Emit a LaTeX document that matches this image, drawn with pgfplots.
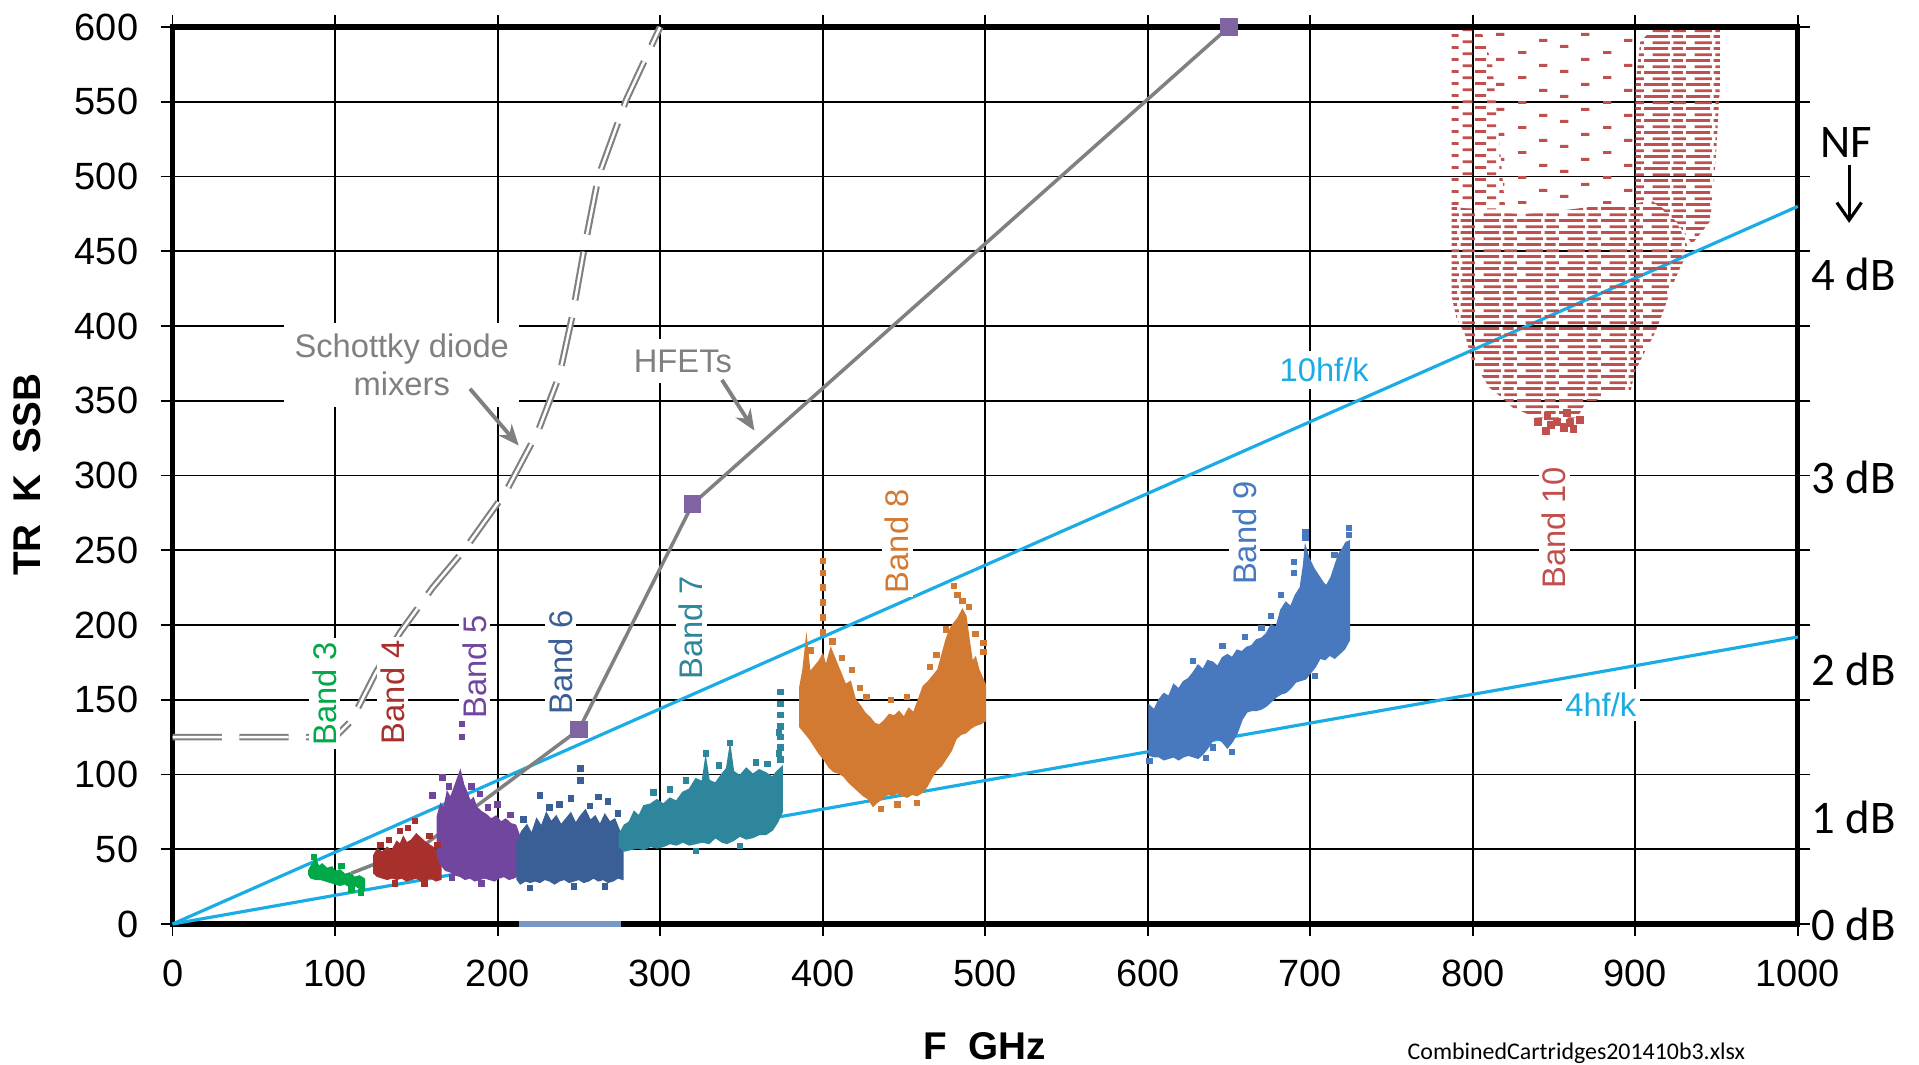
\documentclass[border=0pt]{standalone}
\usepackage{fontspec}
\setmainfont{Liberation Sans}
\newfontfamily\calibri{Carlito}
\usepackage{pgfplots}
\pgfplotsset{compat=1.18}
\usetikzlibrary{patterns,arrows.meta}

\definecolor{hfline}{RGB}{26,172,228}
\definecolor{greyl}{RGB}{128,128,128}
\definecolor{hfet}{RGB}{128,100,162}
\definecolor{b3}{RGB}{0,168,72}
\definecolor{b4}{RGB}{168,48,44}
\definecolor{b5}{RGB}{112,70,158}
\definecolor{b6}{RGB}{58,94,150}
\definecolor{b7}{RGB}{46,134,156}
\definecolor{b8}{RGB}{210,122,50}
\definecolor{b9}{RGB}{72,120,190}
\definecolor{b10}{RGB}{192,80,77}

% row textures for the band 10 cloud (staggered dashes)
\pgfdeclarepatternformonly{rowsdense}{\pgfqpoint{0pt}{0pt}}{\pgfqpoint{12pt}{3.5pt}}{\pgfqpoint{12pt}{3.5pt}}{%
  \pgfpathrectangle{\pgfqpoint{0pt}{0pt}}{\pgfqpoint{7pt}{0.85pt}}%
  \pgfpathrectangle{\pgfqpoint{8pt}{0pt}}{\pgfqpoint{3.2pt}{0.85pt}}%
  \pgfpathrectangle{\pgfqpoint{2.5pt}{1.75pt}}{\pgfqpoint{5pt}{0.85pt}}%
  \pgfpathrectangle{\pgfqpoint{8.5pt}{1.75pt}}{\pgfqpoint{4.5pt}{0.85pt}}%
  \pgfusepath{fill}}
\pgfdeclarepatternformonly{rowssparse}{\pgfqpoint{0pt}{0pt}}{\pgfqpoint{14pt}{3.5pt}}{\pgfqpoint{14pt}{3.5pt}}{%
  \pgfpathrectangle{\pgfqpoint{0pt}{0pt}}{\pgfqpoint{3.2pt}{0.85pt}}%
  \pgfpathrectangle{\pgfqpoint{7pt}{0pt}}{\pgfqpoint{2.4pt}{0.85pt}}%
  \pgfpathrectangle{\pgfqpoint{3.5pt}{1.75pt}}{\pgfqpoint{2.6pt}{0.85pt}}%
  \pgfpathrectangle{\pgfqpoint{10.5pt}{1.75pt}}{\pgfqpoint{2.8pt}{0.85pt}}%
  \pgfusepath{fill}}
\pgfdeclarepatternformonly{rowsvsparse}{\pgfqpoint{0pt}{0pt}}{\pgfqpoint{24pt}{7pt}}{\pgfqpoint{24pt}{7pt}}{%
  \pgfpathrectangle{\pgfqpoint{0pt}{0pt}}{\pgfqpoint{2.4pt}{0.85pt}}%
  \pgfpathrectangle{\pgfqpoint{12pt}{1.75pt}}{\pgfqpoint{2.4pt}{0.85pt}}%
  \pgfpathrectangle{\pgfqpoint{6pt}{3.5pt}}{\pgfqpoint{2.4pt}{0.85pt}}%
  \pgfpathrectangle{\pgfqpoint{18pt}{5.25pt}}{\pgfqpoint{2.4pt}{0.85pt}}%
  \pgfusepath{fill}}

\newcommand{\bandfont}{\fontsize{9.3}{11}\selectfont}
\newcommand{\nffont}{\calibri\fontsize{13.3}{15}\selectfont}

\begin{document}
\begin{tikzpicture}
\begin{axis}[
  at={(0,0)}, anchor=south west,
  scale only axis, width=16.252cm, height=8.97cm,
  xmin=0, xmax=1000, ymin=0, ymax=600,
  xtick={0,100,...,1000}, ytick={0,50,...,600},
  grid=major, major grid style={black, line width=0.5pt},
  axis line style={black, line width=1.5pt},
  tick align=outside, major tick length=0.12cm,
  tick style={black, line width=0.5pt},
  ticklabel style={font=\fontsize{10.8}{13}\selectfont},
  xticklabel style={yshift=-0.12cm},
  yticklabel style={xshift=-0.1cm},
  /pgf/number format/assume math mode=true,
  /pgf/number format/1000 sep={},
  clip=false,
]

% hf/k reference lines
\addplot[hfline, line width=0.9pt] coordinates {(0,0) (1000,480)};
\addplot[hfline, line width=0.9pt] coordinates {(0,0) (1000,192)};

% Schottky diode mixers
\addplot[greyl, line width=0.6pt, double=white, double distance=0.7pt,
  dash pattern=on 14pt off 5pt] coordinates {
  (0,125) (100,125) (110,136) (125,168) (140,195) (160,225) (180,251)
  (205,289) (225,330) (238,367) (246,407) (253,450) (262,500) (279,551) (300,600)};

% HFETs
\addplot[greyl, line width=1pt] coordinates {
  (110,34) (155,53) (250,130) (320,281) (650,600)};
\addplot[only marks, mark=square*, mark size=2.3pt, hfet] coordinates {
  (250,130) (320,281) (650,600)};

% Band 3
\addplot[fill=b3, draw=b3, line width=0.5pt] coordinates {
  (84,36) (86,40) (88,43) (90,38) (92,40) (95,37) (98,38) (100,35) (103,36)
  (106,33) (109,34) (112,31) (115,32) (118,30)
  (118,23) (115,24) (112,26) (109,25) (106,27) (103,26) (100,27) (97,28)
  (94,29) (91,30) (88,30) (85,31) (84,33)} -- cycle;
\addplot[only marks, mark=square*, mark size=0.7pt, b3] coordinates {
  (87,45) (104,39) (116,21) (110,23)};

% Band 4
\addplot[fill=b4, draw=b4, line width=0.5pt] coordinates {
  (124,46) (126,50) (129,48) (132,51) (135,49) (138,55) (140,53) (142,58)
  (144,54) (147,56) (150,60) (153,57) (156,54) (159,52) (162,50) (165,48)
  (165,30) (162,29) (159,31) (156,30) (153,29) (150,31) (147,30) (144,29)
  (141,31) (138,30) (135,31) (132,30) (129,31) (126,32) (124,34)} -- cycle;
\addplot[only marks, mark=square*, mark size=0.7pt, b4] coordinates {
  (149,69) (145,64) (140,62) (158,59) (133,56) (128,53) (163,53) (137,27) (155,27)};

% Band 5
\addplot[fill=b5, draw=b5, line width=0.5pt] coordinates {
  (163,72) (165,80) (167,77) (169,88) (171,84) (173,90) (175,96) (177,102)
  (179,93) (181,88) (183,82) (185,84) (187,78) (190,75) (193,73) (196,70)
  (199,72) (202,68) (205,70) (208,67) (211,66) (213,60)
  (213,33) (210,31) (207,30) (204,32) (201,31) (198,29) (195,30) (192,31)
  (189,30) (186,29) (183,31) (180,30) (177,32) (174,33) (171,35) (168,36)
  (165,40) (163,45)} -- cycle;
\addplot[only marks, mark=square*, mark size=0.7pt, b5] coordinates {
  (178,125) (178,134) (166,98) (189,87) (200,80) (170,92) (184,92)
  (160,86) (194,78) (208,73) (190,27) (172,31)};

% Band 6
\addplot[fill=b6, draw=b6, line width=0.5pt] coordinates {
  (212,55) (215,62) (218,66) (221,60) (224,70) (227,65) (230,74) (233,68)
  (236,72) (239,66) (242,70) (245,74) (248,67) (251,72) (254,76) (257,69)
  (260,72) (263,66) (266,73) (269,68) (272,70) (275,62) (277,58)
  (277,30) (274,31) (271,29) (268,28) (265,30) (262,29) (259,31) (256,29)
  (253,28) (250,30) (247,29) (244,28) (241,30) (238,29) (235,27) (232,29)
  (229,30) (226,28) (223,29) (220,28) (217,29) (214,27) (212,30)} -- cycle;
\addplot[only marks, mark=square*, mark size=0.7pt, b6] coordinates {
  (226,86) (251,96) (251,104) (245,84) (262,85) (268,82) (238,80)
  (216,70) (232,78) (257,79) (274,74) (220,24) (247,25) (266,25)};
\addplot[color={rgb,255:red,120;green,150;blue,200}, line width=1.5pt] coordinates {(213,0) (276,0)};

% Band 7
\addplot[fill=b7, draw=b7, line width=0.5pt] coordinates {
  (275,60) (278,66) (281,68) (284,75) (287,72) (290,79) (294,80) (298,83)
  (302,80) (306,84) (310,82) (314,88) (318,90) (322,97) (326,95) (328,110)
  (330,96) (334,94) (338,100) (341,104) (343,118) (345,102) (349,99)
  (353,104) (357,100) (361,103) (365,101) (369,98) (372,102) (375,105)
  (375,75) (372,68) (369,63) (365,60) (361,60) (357,58) (353,57) (349,59)
  (345,56) (341,54) (338,55) (334,58) (330,54) (326,55) (322,54) (318,53)
  (314,55) (310,53) (306,54) (302,52) (298,51) (294,52) (290,50) (286,51)
  (282,50) (278,49) (275,52)} -- cycle;
\addplot[only marks, mark=square*, mark size=0.7pt, b7] coordinates {
  (374,110) (374,118) (374,125) (374,132) (374,140) (374,147) (374,155)
  (373,114) (373,128) (328,114) (343,121) (316,96) (296,88) (306,90)
  (336,106) (359,108) (366,107) (322,49) (349,52)};

% Band 8
\addplot[fill=b8, draw=b8, line width=0.5pt] coordinates {
  (386,158) (388,170) (390,190) (392,168) (395,172) (398,176) (400,180)
  (402,172) (405,184) (408,176) (411,168) (414,160) (417,162) (420,150)
  (423,146) (426,141) (429,138) (432,134) (435,133) (438,136) (441,140)
  (444,139) (447,142) (450,138) (453,144) (456,141) (459,150) (462,159)
  (465,162) (468,166) (471,170) (474,182) (476,190) (478,196) (480,200)
  (483,204) (486,210) (488,206) (490,190) (492,175) (494,178) (496,170)
  (498,165) (500,160)
  (500,136) (497,134) (494,133) (491,131) (488,128) (485,127) (482,124)
  (479,116) (476,111) (473,106) (470,103) (467,98) (464,92) (461,88)
  (458,86) (455,87) (452,85) (449,86) (446,88) (443,86) (440,87) (437,84)
  (434,82) (431,79) (428,84) (425,86) (422,89) (419,92) (416,95) (413,99)
  (410,101) (407,102) (404,105) (401,110) (398,114) (395,119) (392,124)
  (389,128) (386,132)} -- cycle;
\addplot[only marks, mark=square*, mark size=0.7pt, b8] coordinates {
  (400,195) (400,205) (400,215) (400,225) (400,235) (400,243) (481,226)
  (483,220) (486,216) (490,212) (476,197) (393,183) (406,189) (418,170)
  (427,152) (499,188) (499,182) (442,150) (452,152) (412,178) (423,158)
  (466,172) (470,180) (494,194) (436,77) (446,80) (458,81)};

% Band 9
\addplot[fill=b9, draw=b9, line width=0.5pt] coordinates {
  (601,146) (604,143) (607,150) (610,154) (613,152) (616,160) (619,157)
  (622,162) (625,164) (628,168) (631,173) (634,170) (637,176) (640,175)
  (643,172) (646,178) (649,180) (652,178) (655,183) (658,182) (661,185)
  (664,186) (667,190) (670,191) (673,194) (676,200) (679,198) (682,210)
  (685,215) (688,212) (691,220) (694,225) (696,240) (697,252) (699,245)
  (702,238) (705,233) (708,228) (710,226) (713,232) (716,242) (718,248)
  (720,251) (722,255) (724,256)
  (724,190) (721,184) (718,181) (715,178) (712,180) (709,177) (706,178)
  (703,172) (700,168) (697,164) (694,163) (691,162) (688,158) (685,155)
  (682,154) (679,152) (676,149) (673,146) (670,144) (667,143) (664,143)
  (661,142) (658,137) (655,128) (652,122) (649,118) (646,122) (643,124)
  (640,123) (637,118) (634,114) (631,111) (628,112) (625,113) (622,112)
  (619,110) (616,112) (613,111) (610,110) (607,112) (604,112) (601,113)} -- cycle;
\addplot[only marks, mark=square*, mark size=0.7pt, b9] coordinates {
  (697,262) (697,258) (690,242) (690,235) (724,265) (724,260) (721,247)
  (682,220) (715,247) (670,198) (601,109) (640,118) (628,176) (646,186)
  (660,192) (676,206) (652,115) (636,111) (703,166)};

% Band 10
\addplot[draw=none, pattern=rowsdense, pattern color=b10] coordinates {
  (787,480) (800,478) (815,476) (830,475) (845,476) (860,478) (875,480)
  (890,480) (900,482) (910,484) (918,478) (925,470) (930,460) (933,450)
  (928,440) (922,425) (918,412) (912,395) (906,383) (900,370) (897,356)
  (890,356) (885,357) (876,350) (870,350) (865,340) (860,337) (855,333)
  (850,333) (845,338) (838,339) (830,343) (825,345) (818,352) (810,359)
  (805,368) (800,375) (795,395) (790,405) (787,420)} -- cycle;
\addplot[draw=none, pattern=rowssparse, pattern color=b10] coordinates {
  (787,478) (787,598) (805,598) (812,575) (815,540) (820,478)} -- cycle;
\addplot[draw=none, pattern=rowsvsparse, pattern color=b10] coordinates {
  (820,478) (815,540) (812,575) (805,598) (903,598) (900,560) (900,482)} -- cycle;
\addplot[draw=none, pattern=rowsdense, pattern color=b10] coordinates {
  (900,482) (900,560) (903,590) (910,598) (952,598) (952,560) (950,520)
  (948,490) (946,470) (935,455) (925,470) (910,484)} -- cycle;
\addplot[only marks, mark=square*, mark size=0.9pt, b10] coordinates {
  (848,334) (852,336) (856,332) (860,335) (846,340) (858,342) (866,337)
  (845,330) (862,331) (840,336)};

% labels
\node[rotate=90, fill=white, inner sep=1pt, text=b3, font=\bandfont] at (axis cs:93.4,154) {Band 3};
\node[rotate=90, fill=white, inner sep=1pt, text=b4, font=\bandfont] at (axis cs:135.5,155) {Band 4};
\node[rotate=90, fill=white, inner sep=1pt, text=b5, font=\bandfont] at (axis cs:186,172) {Band 5};
\node[rotate=90, fill=white, inner sep=1pt, text=b6, font=\bandfont] at (axis cs:238.7,175) {Band 6};
\node[rotate=90, fill=white, inner sep=1pt, text=b7, font=\bandfont] at (axis cs:319,198) {Band 7};
\node[rotate=90, fill=white, inner sep=1pt, text=b8, font=\bandfont] at (axis cs:445.8,256) {Band 8};
\node[rotate=90, fill=white, inner sep=1pt, text=b9, font=\bandfont] at (axis cs:659.6,261.5) {Band 9};
\node[rotate=90, fill=white, inner sep=1pt, text=b10, font=\bandfont] at (axis cs:850,265) {Band 10};

\node[fill=white, inner sep=2pt, text=hfline, font=\bandfont] at (axis cs:708.6,370.8) {10hf/k};
\node[fill=white, inner sep=1pt, text=hfline, font=\bandfont] at (axis cs:878.8,146.5) {4hf/k};

\node[fill=white, inner xsep=3pt, inner ysep=3pt, text=greyl, font=\bandfont, align=center]
  at (axis cs:141,374) {Schottky diode\\mixers};
\draw[greyl, line width=1.1pt, -{Stealth[length=6pt,width=5pt]}] (axis cs:183,358) -- (axis cs:213,320);
\node[fill=white, inner sep=3pt, text=greyl, font=\bandfont] at (axis cs:314,376.5) {HFETs};
\draw[greyl, line width=1.1pt, -{Stealth[length=6pt,width=5pt]}] (axis cs:338,364) -- (axis cs:358,330);

% noise figure scale
\node[anchor=west, inner sep=0pt, xshift=0.13cm, font=\nffont] at (axis cs:1000,0) {0 dB};
\node[anchor=west, inner sep=0pt, xshift=0.13cm, font=\nffont] at (axis cs:1000,71.2) {1 dB};
\node[anchor=west, inner sep=0pt, xshift=0.13cm, font=\nffont] at (axis cs:1000,170.3) {2 dB};
\node[anchor=west, inner sep=0pt, xshift=0.13cm, font=\nffont] at (axis cs:1000,298.8) {3 dB};
\node[anchor=west, inner sep=0pt, xshift=0.13cm, font=\nffont] at (axis cs:1000,434.7) {4 dB};
\node[anchor=west, inner sep=0pt, xshift=0.22cm, font=\nffont] at (axis cs:1000,523) {NF};
\draw[line width=0.9pt, -{Straight Barb[length=5pt,width=7pt]}] (axis cs:1031.6,508) -- (axis cs:1031.6,469);
\end{axis}

\node[rotate=90, font=\bfseries\fontsize{11}{13}\selectfont] at (-1.456,4.49) {TR\ \ K\ \ SSB};
\node[font=\bfseries\fontsize{11}{13}\selectfont] at (8.124,-1.22) {F\ \ GHz};
\node[anchor=base west, inner sep=0pt, font=\calibri\fontsize{6.8}{8}\selectfont] at (12.344,-1.36) {CombinedCartridges201410b3.xlsx};

\pgfresetboundingbox
\path[use as bounding box] (-1.726,-1.41) rectangle (17.464,9.24);
\end{tikzpicture}
\end{document}
